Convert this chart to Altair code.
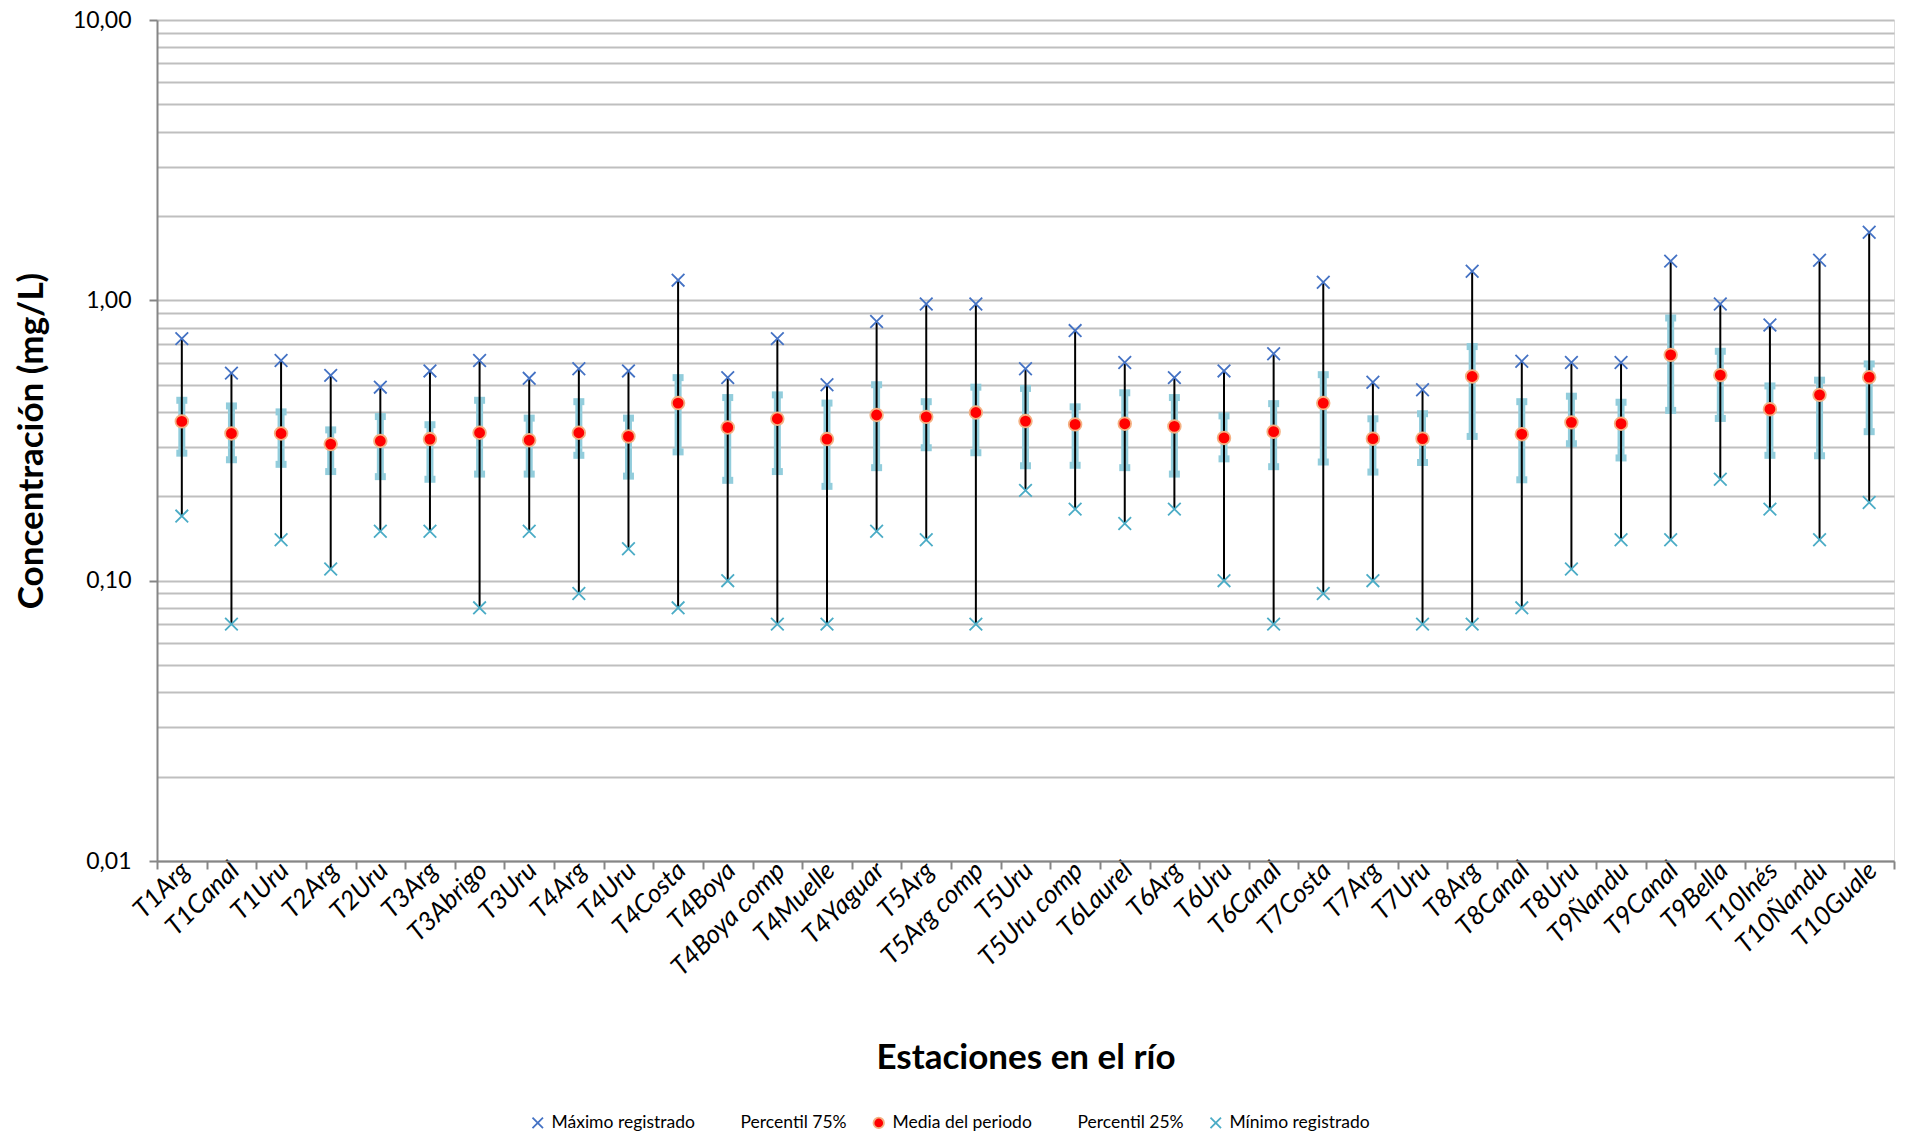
import altair as alt
import pandas as pd

estaciones = ["T1Arg", "T1Canal", "T1Uru", "T2Arg", "T2Uru", "T3Arg", "T3Abrigo", "T3Uru",
              "T4Arg", "T4Uru", "T4Costa", "T4Boya", "T4Boya comp", "T4Muelle", "T4Yaguar",
              "T5Arg", "T5Arg comp", "T5Uru", "T5Uru comp", "T6Laurel", "T6Arg", "T6Uru",
              "T6Canal", "T7Costa", "T7Arg", "T7Uru", "T8Arg", "T8Canal", "T8Uru", "T9Ñandu",
              "T9Canal", "T9Bella", "T10Inés", "T10Ñandu", "T10Guale"]

maximo = [0.73, 0.55, 0.61, 0.54, 0.49, 0.56, 0.61, 0.527, 0.57, 0.56, 1.18, 0.53, 0.73, 0.50,
          0.84, 0.97, 0.97, 0.57, 0.78, 0.60, 0.53, 0.56, 0.645, 1.16, 0.51, 0.48, 1.27, 0.606,
          0.60, 0.60, 1.38, 0.97, 0.817, 1.39, 1.75]
p75 = [0.44, 0.42, 0.40, 0.345, 0.385, 0.36, 0.44, 0.38, 0.435, 0.38, 0.53, 0.45, 0.46, 0.43,
       0.50, 0.435, 0.49, 0.485, 0.417, 0.468, 0.45, 0.387, 0.428, 0.543, 0.378, 0.394, 0.684,
       0.435, 0.455, 0.433, 0.865, 0.658, 0.495, 0.519, 0.593]
media = [0.37, 0.335, 0.335, 0.307, 0.315, 0.32, 0.337, 0.317, 0.337, 0.327, 0.43, 0.352, 0.378,
         0.32, 0.39, 0.384, 0.398, 0.371, 0.361, 0.363, 0.355, 0.323, 0.34, 0.43, 0.321, 0.321,
         0.535, 0.333, 0.367, 0.363, 0.639, 0.541, 0.409, 0.46, 0.532]
p25 = [0.285, 0.27, 0.26, 0.245, 0.235, 0.23, 0.24, 0.24, 0.28, 0.236, 0.288, 0.228, 0.245, 0.217,
       0.253, 0.298, 0.286, 0.257, 0.258, 0.253, 0.24, 0.272, 0.255, 0.265, 0.244, 0.264, 0.327,
       0.229, 0.308, 0.274, 0.405, 0.379, 0.28, 0.279, 0.34]
minimo = [0.17, 0.07, 0.14, 0.11, 0.15, 0.15, 0.08, 0.15, 0.09, 0.13, 0.08, 0.10, 0.07, 0.07,
          0.15, 0.14, 0.07, 0.21, 0.18, 0.16, 0.18, 0.10, 0.07, 0.09, 0.10, 0.07, 0.07, 0.08,
          0.11, 0.14, 0.14, 0.23, 0.18, 0.14, 0.19]

series = ["Máximo registrado", "Percentil 75%", "Media del periodo", "Percentil 25%", "Mínimo registrado"]
fill_range = ["transparent", "transparent", "#FF0000", "transparent", "transparent"]
stroke_range = ["#4472C4", "transparent", "#F4B183", "transparent", "#4BACC6"]
xpath = "M-1,-1L1,1M1,-1L-1,1"
shape_range = [xpath, "circle", "circle", "circle", xpath]

wide = pd.DataFrame({"estacion": estaciones, "maximo": maximo, "p75": p75,
                     "media": media, "p25": p25, "minimo": minimo})
rows = []
for i, e in enumerate(estaciones):
    for s, vals in zip(series, [maximo, p75, media, p25, minimo]):
        rows.append({"estacion": e, "serie": s, "valor": vals[i]})
long = pd.DataFrame(rows)

W, H = 1737, 841
FONT = "Lato"

decade = "abs(log(datum.value)/LN10 - round(log(datum.value)/LN10)) < 0.000001"
yvals = [m * 10.0 ** k for k in (-2, -1, 0) for m in range(1, 10)] + [10.0]

x_enc = alt.X(
    "estacion:N", sort=estaciones,
    scale=alt.Scale(paddingInner=0, paddingOuter=0),
    axis=alt.Axis(
        title="Estaciones en el río", titleFont=FONT, titleFontSize=35, titleFontWeight="bold",
        titleColor="#000000", titleX=W / 2, titleY=207, titleBaseline="alphabetic",
        titleAlign="center",
        labelAngle=-45, labelAlign="right", labelBaseline="top", labelFont=FONT,
        labelFontStyle="italic", labelFontSize=26, labelColor="#000000", labelPadding=-12,
        labelOffset=-6,
        labelOverlap=False, labelLimit=400,
        tickBand="extent", tickSize=8, tickColor="#868686", tickWidth=2,
        domainColor="#868686", domainWidth=2, grid=False,
    ),
)

y_scale = alt.Scale(type="log", domain=[0.01, 10], nice=False)
y_axis = alt.Axis(
    values=yvals, title="Concentración (mg/L)", titleFont=FONT, titleFontSize=35,
    titleFontWeight="bold", titleColor="#000000", titleX=-115, titleY=H / 2,
    titleAngle=-90, titleBaseline="alphabetic", titleAlign="center",
    labelExpr=f"({decade}) ? replace(format(datum.value, '.2f'), '.', ',') : ''",
    labelFont=FONT, labelFontSize=23, labelColor="#000000", labelPadding=18,
    labelOverlap=False,
    tickSize=8, tickColor="#868686", tickWidth=2,
    tickOpacity={"condition": {"test": decade, "value": 1}, "value": 0},
    domainColor="#868686", domainWidth=2,
    grid=True, gridColor="#BFBFBF", gridWidth=2,
)

base_w = alt.Chart(wide)

iqr = base_w.mark_rule(color="#92CDDC", strokeWidth=7).encode(
    x=x_enc, y=alt.Y("p25:Q", scale=y_scale, axis=y_axis), y2="p75:Q")

caps = alt.Chart(long).transform_filter(
    alt.FieldOneOfPredicate(field="serie", oneOf=["Percentil 75%", "Percentil 25%"])
).mark_tick(color="#92CDDC", thickness=7, size=11, opacity=1).encode(
    x=x_enc, y=alt.Y("valor:Q", scale=y_scale, axis=y_axis))

rng = base_w.mark_rule(color="#000000", strokeWidth=2).encode(
    x=x_enc, y=alt.Y("minimo:Q", scale=y_scale, axis=y_axis), y2="maximo:Q")

leg = alt.Legend(
    title=None, orient="none", legendX=372, legendY=1094, direction="horizontal",
    labelFont=FONT, labelFontSize=17.5, labelColor="#000000", labelLimit=400,
    symbolSize=110, symbolStrokeWidth=1.8, labelOffset=5, columnPadding=22, padding=0,
)

pts = alt.Chart(long).mark_point(filled=True, opacity=1, size=160, strokeWidth=1.8).encode(
    x=x_enc,
    y=alt.Y("valor:Q", scale=y_scale, axis=y_axis),
    fill=alt.Fill("serie:N", scale=alt.Scale(domain=series, range=fill_range), legend=leg),
    stroke=alt.Stroke("serie:N", scale=alt.Scale(domain=series, range=stroke_range), legend=leg),
    shape=alt.Shape("serie:N", scale=alt.Scale(domain=series, range=shape_range), legend=leg),
)

chart = alt.layer(iqr, caps, rng, pts).properties(
    width=W, height=H,
    autosize=alt.AutoSizeParams(type="none"),
    padding={"left": 149, "top": 12, "right": 10, "bottom": 274},
).configure_view(stroke=None).configure(background="white")

chart.save("out.html", embed_options={"renderer": "svg", "actions": False})
